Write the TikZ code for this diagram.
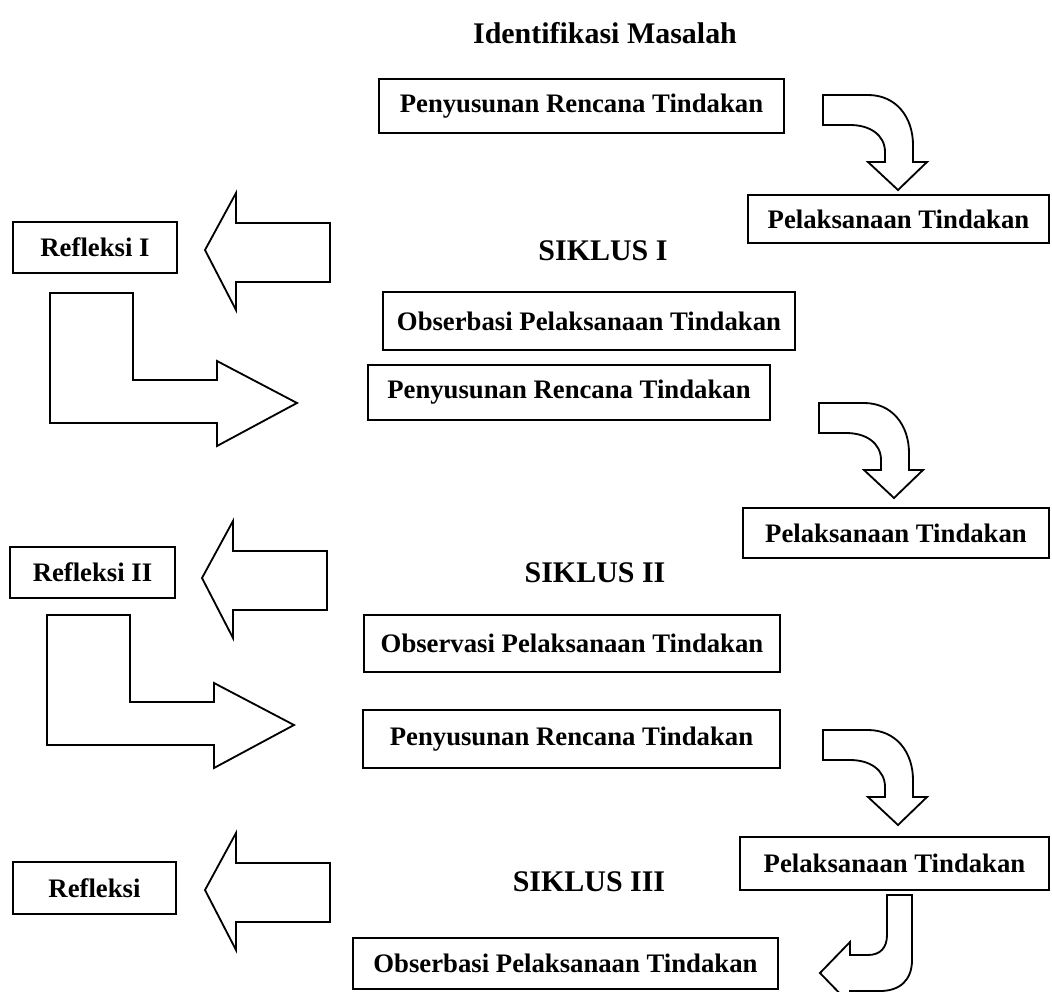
\documentclass[tikz,border=0pt]{standalone}
\usepackage{fontspec}
\setmainfont{Liberation Serif}
\begin{document}
\begin{tikzpicture}[x=0.025cm,y=-0.025cm,
  box/.style={draw,line width=1.3pt,inner sep=0pt,font=\fontsize{19}{22}\selectfont\bfseries},
  head/.style={inner sep=0pt,font=\fontsize{21.3}{24}\selectfont\bfseries},
  blk/.style={draw,line width=1.3pt,line join=miter}]
\def\u{0.025cm}
\useasboundingbox (0,0) rectangle (1052,992);
\clip (0,0) rectangle (1052,992);
% titles
\node[head] (title) at (605,33) {Identifikasi Masalah};
\node[head] (s1) at (603,251) {SIKLUS I};
\node[head] (s2) at (595,573) {SIKLUS II};
\node[head] (s3) at (589,882) {SIKLUS III};
% boxes
\node[box,minimum width=405*\u,minimum height=54*\u] (pen1) at (581.5,106) {Penyusunan Rencana Tindakan};
\node[box,minimum width=301*\u,minimum height=48*\u] (pel1) at (898.5,219) {Pelaksanaan Tindakan};
\node[box,minimum width=164*\u,minimum height=51*\u] (ref1) at (95,247.5) {Refleksi I};
\node[box,minimum width=412*\u,minimum height=58*\u] (obs1) at (589,321) {Obserbasi Pelaksanaan Tindakan};
\node[box,minimum width=402*\u,minimum height=55*\u] (pen2) at (569,392.5) {Penyusunan Rencana Tindakan};
\node[box,minimum width=306*\u,minimum height=50*\u] (pel2) at (896,533) {Pelaksanaan Tindakan};
\node[box,minimum width=165*\u,minimum height=51*\u] (ref2) at (92.5,572.5) {Refleksi II};
\node[box,minimum width=416*\u,minimum height=57*\u] (obs2) at (572,643.5) {Observasi Pelaksanaan Tindakan};
\node[box,minimum width=417*\u,minimum height=58*\u] (pen3) at (571.5,739) {Penyusunan Rencana Tindakan};
\node[box,minimum width=309*\u,minimum height=53*\u] (pel3) at (894.5,863.5) {Pelaksanaan Tindakan};
\node[box,minimum width=163*\u,minimum height=52*\u] (ref3) at (94.5,888) {Refleksi};
\node[box,minimum width=425*\u,minimum height=51*\u] (obs3) at (565.5,963.5) {Obserbasi Pelaksanaan Tindakan};
% curved down arrows
\foreach \dx/\dy in {0/0,-4/308,0/635}{
  \draw[blk,shift={(\dx*\u,-\dy*\u)}] (823,95) -- (868,95) .. controls (896,95) and (913,117) .. (913,145) -- (913,162) -- (927,162) -- (898,190) -- (868,162) -- (885,162) -- (885,152) .. controls (885,135) and (870,125) .. (850,125) -- (823,125) -- cycle;
}
% left arrows
\foreach \dx/\dy in {0/0,-3/328,0/640}{
  \draw[blk,shift={(\dx*\u,-\dy*\u)}] (205,250) -- (236,193) -- (236,223) -- (330,223) -- (330,282) -- (236,282) -- (236,310) -- cycle;
}
% L arrows
\foreach \dx/\dy in {0/0,-3/322}{
  \draw[blk,shift={(\dx*\u,-\dy*\u)}] (50,293) -- (133,293) -- (133,380) -- (217,380) -- (217,361) -- (297,403) -- (217,446) -- (217,423) -- (50,423) -- cycle;
}
% bottom J arrow
\draw[blk] (887,895) -- (912,895) -- (912,960) .. controls (912,980) and (900,991) .. (880,991) -- (850,991) -- (850,1004) -- (820,973) -- (850,942) -- (850,955) -- (868,955) .. controls (880,955) and (887,948) .. (887,935) -- cycle;
\end{tikzpicture}
\end{document}
